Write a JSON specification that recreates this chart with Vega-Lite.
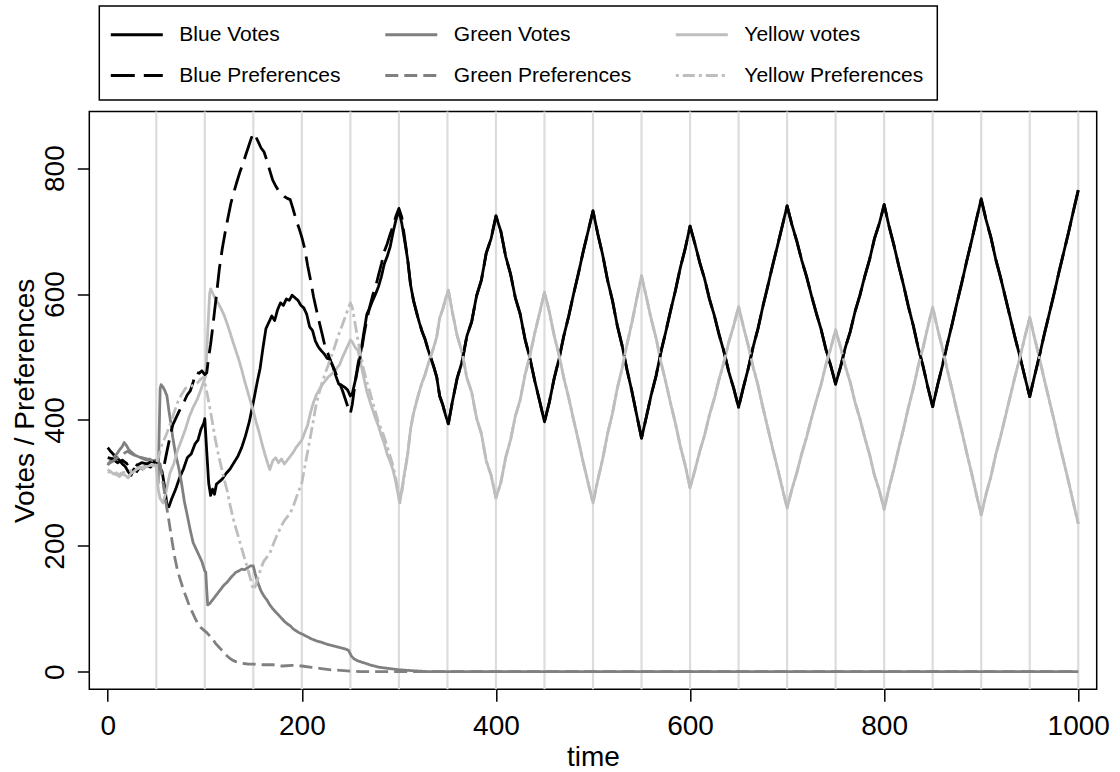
{
"$schema":"https://vega.github.io/schema/vega-lite/v6.json",
"width":1007.4,"height":577.8,
"autosize":{"type":"none"},
"padding":{"left":89.3,"top":111.5,"right":23.3,"bottom":82.7},
"background":"white",
"config":{
 "view":{"stroke":"black","strokeWidth":1.5},
 "font":"Liberation Sans",
 "line":{"strokeWidth":2.8,"strokeJoin":"round","strokeCap":"butt"},
 "legend":{"orient":"none","legendX":10,"legendY":-105.5,"columns":3,"symbolType":"M-2,0H2","symbolSize":676,"symbolOffset":9,"symbolStrokeWidth":2.5,"labelFont":"Liberation Sans","labelFontSize":21,"labelColor":"black","labelOffset":28,"labelLimit":400,"columnPadding":42.5,"rowPadding":16,"padding":14,"strokeColor":"black","strokeWidth":1.5,"fillColor":"white"}
},
"datasets":{
"gridlines":[{"t":50},{"t":100},{"t":150},{"t":200},{"t":250},{"t":300},{"t":350},{"t":400},{"t":450},{"t":500},{"t":550},{"t":600},{"t":650},{"t":700},{"t":750},{"t":800},{"t":850},{"t":900},{"t":950},{"t":1000}],
"bv":[{"t":0,"v":356},{"t":3,"v":350},{"t":6,"v":345},{"t":9,"v":340},{"t":12,"v":336},{"t":15,"v":330},{"t":18,"v":326},{"t":21,"v":318},{"t":24,"v":312},{"t":27,"v":322},{"t":30,"v":318},{"t":33,"v":325},{"t":36,"v":322},{"t":40,"v":328},{"t":44,"v":325},{"t":48,"v":330},{"t":52,"v":328},{"t":56,"v":318},{"t":59,"v":290},{"t":61,"v":265},{"t":63,"v":262},{"t":66,"v":275},{"t":70,"v":290},{"t":74,"v":308},{"t":78,"v":322},{"t":82,"v":340},{"t":86,"v":346},{"t":90,"v":362},{"t":93,"v":368},{"t":96,"v":385},{"t":99,"v":395},{"t":100,"v":402},{"t":102,"v":350},{"t":104,"v":300},{"t":106,"v":280},{"t":108,"v":290},{"t":110,"v":282},{"t":112,"v":298},{"t":115,"v":302},{"t":118,"v":306},{"t":122,"v":315},{"t":126,"v":322},{"t":130,"v":332},{"t":134,"v":342},{"t":138,"v":356},{"t":142,"v":375},{"t":146,"v":398},{"t":150,"v":428},{"t":154,"v":460},{"t":157,"v":482},{"t":160,"v":515},{"t":163,"v":545},{"t":166,"v":555},{"t":169,"v":565},{"t":172,"v":558},{"t":175,"v":575},{"t":178,"v":586},{"t":181,"v":582},{"t":184,"v":592},{"t":187,"v":590},{"t":190,"v":598},{"t":193,"v":594},{"t":196,"v":590},{"t":199,"v":582},{"t":202,"v":578},{"t":205,"v":568},{"t":208,"v":548},{"t":211,"v":542},{"t":214,"v":525},{"t":217,"v":516},{"t":220,"v":510},{"t":223,"v":505},{"t":226,"v":498},{"t":229,"v":496},{"t":232,"v":485},{"t":235,"v":470},{"t":238,"v":457},{"t":241,"v":455},{"t":244,"v":452},{"t":247,"v":448},{"t":250,"v":438},{"t":252,"v":442},{"t":255,"v":462},{"t":258,"v":490},{"t":261,"v":510},{"t":264,"v":540},{"t":267,"v":568},{"t":270,"v":578},{"t":273,"v":590},{"t":276,"v":600},{"t":279,"v":612},{"t":282,"v":628},{"t":285,"v":648},{"t":288,"v":660},{"t":291,"v":675},{"t":294,"v":698},{"t":297,"v":718},{"t":300,"v":733},{"t":303,"v":712},{"t":306,"v":684},{"t":309,"v":655},{"t":312,"v":615},{"t":315,"v":590},{"t":318,"v":572},{"t":321,"v":555},{"t":324,"v":540},{"t":327,"v":528},{"t":330,"v":512},{"t":333,"v":498},{"t":336,"v":484},{"t":339,"v":468},{"t":342,"v":438},{"t":345,"v":425},{"t":348,"v":408},{"t":351,"v":394},{"t":355,"v":428},{"t":360,"v":466},{"t":365,"v":492},{"t":370,"v":533},{"t":375,"v":556},{"t":380,"v":597},{"t":385,"v":622},{"t":390,"v":665},{"t":395,"v":688},{"t":400,"v":724},{"t":405,"v":700},{"t":410,"v":660},{"t":415,"v":632},{"t":420,"v":594},{"t":425,"v":568},{"t":430,"v":528},{"t":435,"v":498},{"t":440,"v":462},{"t":445,"v":430},{"t":450,"v":397},{"t":455,"v":428},{"t":460,"v":466},{"t":465,"v":497},{"t":470,"v":534},{"t":475,"v":565},{"t":480,"v":600},{"t":485,"v":633},{"t":490,"v":668},{"t":495,"v":700},{"t":500,"v":732},{"t":505,"v":695},{"t":510,"v":662},{"t":515,"v":622},{"t":520,"v":590},{"t":525,"v":550},{"t":530,"v":518},{"t":535,"v":480},{"t":540,"v":446},{"t":545,"v":408},{"t":550,"v":371},{"t":555,"v":405},{"t":560,"v":440},{"t":565,"v":470},{"t":570,"v":508},{"t":575,"v":540},{"t":580,"v":574},{"t":585,"v":606},{"t":590,"v":642},{"t":595,"v":672},{"t":600,"v":708},{"t":605,"v":680},{"t":610,"v":650},{"t":615,"v":624},{"t":620,"v":592},{"t":625,"v":566},{"t":630,"v":535},{"t":635,"v":508},{"t":640,"v":476},{"t":645,"v":450},{"t":650,"v":420},{"t":655,"v":452},{"t":660,"v":482},{"t":665,"v":516},{"t":670,"v":545},{"t":675,"v":580},{"t":680,"v":612},{"t":685,"v":645},{"t":690,"v":676},{"t":695,"v":708},{"t":700,"v":740},{"t":705,"v":710},{"t":710,"v":684},{"t":715,"v":654},{"t":720,"v":628},{"t":725,"v":598},{"t":730,"v":570},{"t":735,"v":544},{"t":740,"v":512},{"t":745,"v":486},{"t":750,"v":457},{"t":755,"v":484},{"t":760,"v":515},{"t":765,"v":540},{"t":770,"v":572},{"t":775,"v":598},{"t":780,"v":628},{"t":785,"v":655},{"t":790,"v":688},{"t":795,"v":712},{"t":800,"v":742},{"t":805,"v":708},{"t":810,"v":678},{"t":815,"v":645},{"t":820,"v":614},{"t":825,"v":580},{"t":830,"v":550},{"t":835,"v":515},{"t":840,"v":486},{"t":845,"v":452},{"t":850,"v":421},{"t":855,"v":455},{"t":860,"v":486},{"t":865,"v":520},{"t":870,"v":552},{"t":875,"v":586},{"t":880,"v":618},{"t":885,"v":652},{"t":890,"v":684},{"t":895,"v":718},{"t":900,"v":751},{"t":905,"v":718},{"t":910,"v":690},{"t":915,"v":655},{"t":920,"v":626},{"t":925,"v":594},{"t":930,"v":562},{"t":935,"v":530},{"t":940,"v":500},{"t":945,"v":468},{"t":950,"v":437},{"t":955,"v":470},{"t":960,"v":502},{"t":965,"v":536},{"t":970,"v":568},{"t":975,"v":600},{"t":980,"v":634},{"t":985,"v":666},{"t":990,"v":698},{"t":995,"v":732},{"t":1000,"v":765}],
"gv":[{"t":0,"v":328},{"t":3,"v":335},{"t":6,"v":340},{"t":9,"v":345},{"t":12,"v":352},{"t":15,"v":358},{"t":17,"v":364},{"t":19,"v":360},{"t":22,"v":352},{"t":25,"v":348},{"t":28,"v":344},{"t":31,"v":342},{"t":34,"v":340},{"t":37,"v":338},{"t":40,"v":336},{"t":43,"v":338},{"t":46,"v":334},{"t":49,"v":336},{"t":51,"v":320},{"t":52,"v":300},{"t":53,"v":380},{"t":54,"v":450},{"t":55,"v":456},{"t":57,"v":452},{"t":59,"v":446},{"t":61,"v":438},{"t":63,"v":415},{"t":65,"v":395},{"t":67,"v":372},{"t":70,"v":345},{"t":73,"v":325},{"t":76,"v":300},{"t":79,"v":270},{"t":82,"v":248},{"t":85,"v":225},{"t":88,"v":205},{"t":91,"v":195},{"t":94,"v":185},{"t":97,"v":175},{"t":100,"v":160},{"t":101,"v":158},{"t":102,"v":130},{"t":103,"v":106},{"t":105,"v":108},{"t":108,"v":114},{"t":111,"v":120},{"t":114,"v":126},{"t":117,"v":132},{"t":120,"v":138},{"t":123,"v":142},{"t":126,"v":148},{"t":129,"v":153},{"t":132,"v":158},{"t":135,"v":160},{"t":138,"v":163},{"t":141,"v":162},{"t":144,"v":165},{"t":147,"v":168},{"t":150,"v":168},{"t":152,"v":155},{"t":155,"v":140},{"t":158,"v":128},{"t":161,"v":120},{"t":164,"v":114},{"t":167,"v":106},{"t":170,"v":100},{"t":173,"v":95},{"t":176,"v":90},{"t":179,"v":85},{"t":182,"v":80},{"t":185,"v":76},{"t":188,"v":73},{"t":191,"v":68},{"t":194,"v":65},{"t":197,"v":62},{"t":200,"v":60},{"t":205,"v":56},{"t":210,"v":52},{"t":215,"v":49},{"t":220,"v":47},{"t":225,"v":44},{"t":230,"v":42},{"t":235,"v":40},{"t":240,"v":38},{"t":245,"v":36},{"t":248,"v":34},{"t":251,"v":25},{"t":254,"v":20},{"t":258,"v":17},{"t":262,"v":15},{"t":266,"v":13},{"t":270,"v":11},{"t":275,"v":9},{"t":280,"v":7},{"t":285,"v":6},{"t":290,"v":5},{"t":295,"v":4},{"t":300,"v":3},{"t":310,"v":2},{"t":320,"v":1},{"t":330,"v":0},{"t":1000,"v":0}],
"yv":[{"t":0,"v":321},{"t":3,"v":318},{"t":6,"v":314},{"t":9,"v":316},{"t":12,"v":310},{"t":15,"v":314},{"t":18,"v":312},{"t":21,"v":308},{"t":24,"v":315},{"t":27,"v":318},{"t":30,"v":322},{"t":33,"v":325},{"t":36,"v":322},{"t":40,"v":326},{"t":44,"v":328},{"t":48,"v":327},{"t":50,"v":330},{"t":52,"v":290},{"t":54,"v":275},{"t":57,"v":268},{"t":60,"v":285},{"t":64,"v":315},{"t":68,"v":330},{"t":72,"v":352},{"t":76,"v":368},{"t":80,"v":385},{"t":84,"v":405},{"t":88,"v":420},{"t":92,"v":432},{"t":96,"v":448},{"t":99,"v":462},{"t":101,"v":470},{"t":103,"v":540},{"t":105,"v":600},{"t":106,"v":608},{"t":108,"v":602},{"t":111,"v":592},{"t":114,"v":585},{"t":117,"v":576},{"t":120,"v":566},{"t":123,"v":553},{"t":126,"v":539},{"t":129,"v":524},{"t":132,"v":510},{"t":135,"v":496},{"t":138,"v":480},{"t":141,"v":462},{"t":144,"v":446},{"t":147,"v":430},{"t":150,"v":414},{"t":153,"v":396},{"t":156,"v":380},{"t":159,"v":362},{"t":162,"v":345},{"t":165,"v":330},{"t":167,"v":321},{"t":170,"v":335},{"t":173,"v":340},{"t":176,"v":332},{"t":179,"v":338},{"t":182,"v":330},{"t":185,"v":336},{"t":188,"v":342},{"t":191,"v":348},{"t":194,"v":356},{"t":197,"v":362},{"t":200,"v":368},{"t":203,"v":380},{"t":206,"v":392},{"t":209,"v":412},{"t":212,"v":428},{"t":215,"v":440},{"t":218,"v":448},{"t":221,"v":456},{"t":224,"v":462},{"t":227,"v":468},{"t":230,"v":472},{"t":233,"v":476},{"t":236,"v":482},{"t":239,"v":488},{"t":242,"v":500},{"t":245,"v":510},{"t":248,"v":520},{"t":250,"v":527},{"t":252,"v":524},{"t":255,"v":515},{"t":258,"v":510},{"t":261,"v":488},{"t":264,"v":466},{"t":267,"v":445},{"t":270,"v":430},{"t":273,"v":416},{"t":276,"v":402},{"t":279,"v":390},{"t":282,"v":375},{"t":285,"v":362},{"t":288,"v":345},{"t":291,"v":334},{"t":294,"v":320},{"t":297,"v":300},{"t":300,"v":275},{"t":301,"v":268},{"t":303,"v":290},{"t":306,"v":318},{"t":309,"v":345},{"t":312,"v":385},{"t":315,"v":410},{"t":318,"v":428},{"t":321,"v":445},{"t":324,"v":460},{"t":327,"v":472},{"t":330,"v":488},{"t":333,"v":502},{"t":336,"v":516},{"t":339,"v":532},{"t":342,"v":562},{"t":345,"v":575},{"t":348,"v":592},{"t":351,"v":606},{"t":355,"v":572},{"t":360,"v":534},{"t":365,"v":508},{"t":370,"v":467},{"t":375,"v":444},{"t":380,"v":403},{"t":385,"v":378},{"t":390,"v":335},{"t":395,"v":312},{"t":400,"v":276},{"t":405,"v":300},{"t":410,"v":340},{"t":415,"v":368},{"t":420,"v":406},{"t":425,"v":432},{"t":430,"v":472},{"t":435,"v":502},{"t":440,"v":538},{"t":445,"v":570},{"t":450,"v":603},{"t":455,"v":572},{"t":460,"v":534},{"t":465,"v":503},{"t":470,"v":466},{"t":475,"v":435},{"t":480,"v":400},{"t":485,"v":367},{"t":490,"v":332},{"t":495,"v":300},{"t":500,"v":268},{"t":505,"v":305},{"t":510,"v":338},{"t":515,"v":378},{"t":520,"v":410},{"t":525,"v":450},{"t":530,"v":482},{"t":535,"v":520},{"t":540,"v":554},{"t":545,"v":592},{"t":550,"v":629},{"t":555,"v":595},{"t":560,"v":560},{"t":565,"v":530},{"t":570,"v":492},{"t":575,"v":460},{"t":580,"v":426},{"t":585,"v":394},{"t":590,"v":358},{"t":595,"v":328},{"t":600,"v":292},{"t":605,"v":320},{"t":610,"v":350},{"t":615,"v":376},{"t":620,"v":408},{"t":625,"v":434},{"t":630,"v":465},{"t":635,"v":492},{"t":640,"v":524},{"t":645,"v":550},{"t":650,"v":580},{"t":655,"v":548},{"t":660,"v":518},{"t":665,"v":484},{"t":670,"v":455},{"t":675,"v":420},{"t":680,"v":388},{"t":685,"v":355},{"t":690,"v":324},{"t":695,"v":292},{"t":700,"v":260},{"t":705,"v":290},{"t":710,"v":316},{"t":715,"v":346},{"t":720,"v":372},{"t":725,"v":402},{"t":730,"v":430},{"t":735,"v":456},{"t":740,"v":488},{"t":745,"v":514},{"t":750,"v":543},{"t":755,"v":516},{"t":760,"v":485},{"t":765,"v":460},{"t":770,"v":428},{"t":775,"v":402},{"t":780,"v":372},{"t":785,"v":345},{"t":790,"v":312},{"t":795,"v":288},{"t":800,"v":258},{"t":805,"v":292},{"t":810,"v":322},{"t":815,"v":355},{"t":820,"v":386},{"t":825,"v":420},{"t":830,"v":450},{"t":835,"v":485},{"t":840,"v":514},{"t":845,"v":548},{"t":850,"v":579},{"t":855,"v":545},{"t":860,"v":514},{"t":865,"v":480},{"t":870,"v":448},{"t":875,"v":414},{"t":880,"v":382},{"t":885,"v":348},{"t":890,"v":316},{"t":895,"v":282},{"t":900,"v":249},{"t":905,"v":282},{"t":910,"v":310},{"t":915,"v":345},{"t":920,"v":374},{"t":925,"v":406},{"t":930,"v":438},{"t":935,"v":470},{"t":940,"v":500},{"t":945,"v":532},{"t":950,"v":563},{"t":955,"v":530},{"t":960,"v":498},{"t":965,"v":464},{"t":970,"v":432},{"t":975,"v":400},{"t":980,"v":366},{"t":985,"v":334},{"t":990,"v":302},{"t":995,"v":268},{"t":1000,"v":235}],
"bp":[{"t":0,"v":340},{"t":5,"v":338},{"t":10,"v":332},{"t":15,"v":336},{"t":20,"v":330},{"t":25,"v":334},{"t":30,"v":328},{"t":35,"v":332},{"t":40,"v":330},{"t":45,"v":334},{"t":50,"v":333},{"t":55,"v":328},{"t":58,"v":327},{"t":61,"v":350},{"t":64,"v":372},{"t":67,"v":392},{"t":70,"v":402},{"t":73,"v":412},{"t":76,"v":421},{"t":79,"v":430},{"t":82,"v":440},{"t":85,"v":446},{"t":88,"v":460},{"t":91,"v":476},{"t":94,"v":474},{"t":97,"v":478},{"t":100,"v":472},{"t":102,"v":475},{"t":104,"v":500},{"t":106,"v":520},{"t":108,"v":545},{"t":110,"v":572},{"t":112,"v":598},{"t":115,"v":640},{"t":118,"v":672},{"t":121,"v":698},{"t":124,"v":722},{"t":127,"v":745},{"t":130,"v":762},{"t":133,"v":778},{"t":136,"v":793},{"t":139,"v":806},{"t":142,"v":820},{"t":145,"v":834},{"t":148,"v":848},{"t":150,"v":856},{"t":152,"v":852},{"t":155,"v":842},{"t":158,"v":832},{"t":161,"v":826},{"t":164,"v":812},{"t":167,"v":796},{"t":170,"v":781},{"t":173,"v":772},{"t":176,"v":764},{"t":179,"v":760},{"t":182,"v":755},{"t":185,"v":752},{"t":188,"v":750},{"t":191,"v":735},{"t":194,"v":718},{"t":197,"v":705},{"t":200,"v":690},{"t":203,"v":672},{"t":206,"v":645},{"t":209,"v":622},{"t":212,"v":596},{"t":215,"v":575},{"t":218,"v":555},{"t":221,"v":536},{"t":224,"v":516},{"t":227,"v":505},{"t":230,"v":492},{"t":233,"v":482},{"t":236,"v":470},{"t":239,"v":458},{"t":242,"v":446},{"t":245,"v":432},{"t":248,"v":418},{"t":250,"v":410},{"t":252,"v":425},{"t":255,"v":460},{"t":258,"v":485},{"t":261,"v":505},{"t":264,"v":535},{"t":267,"v":560},{"t":270,"v":580},{"t":273,"v":598},{"t":276,"v":612},{"t":279,"v":630},{"t":282,"v":648},{"t":285,"v":668},{"t":288,"v":680},{"t":291,"v":695},{"t":294,"v":708},{"t":297,"v":724},{"t":300,"v":736},{"t":303,"v":722},{"t":306,"v":688},{"t":309,"v":656},{"t":312,"v":615},{"t":315,"v":590},{"t":318,"v":572},{"t":321,"v":555},{"t":324,"v":540},{"t":327,"v":528},{"t":330,"v":512},{"t":333,"v":498},{"t":336,"v":484},{"t":339,"v":468},{"t":342,"v":438},{"t":345,"v":425},{"t":348,"v":408},{"t":351,"v":394},{"t":355,"v":428},{"t":360,"v":466},{"t":365,"v":492},{"t":370,"v":533},{"t":375,"v":556},{"t":380,"v":597},{"t":385,"v":622},{"t":390,"v":665},{"t":395,"v":688},{"t":400,"v":724},{"t":405,"v":700},{"t":410,"v":660},{"t":415,"v":632},{"t":420,"v":594},{"t":425,"v":568},{"t":430,"v":528},{"t":435,"v":498},{"t":440,"v":462},{"t":445,"v":430},{"t":450,"v":397},{"t":455,"v":428},{"t":460,"v":466},{"t":465,"v":497},{"t":470,"v":534},{"t":475,"v":565},{"t":480,"v":600},{"t":485,"v":633},{"t":490,"v":668},{"t":495,"v":700},{"t":500,"v":732},{"t":505,"v":695},{"t":510,"v":662},{"t":515,"v":622},{"t":520,"v":590},{"t":525,"v":550},{"t":530,"v":518},{"t":535,"v":480},{"t":540,"v":446},{"t":545,"v":408},{"t":550,"v":371},{"t":555,"v":405},{"t":560,"v":440},{"t":565,"v":470},{"t":570,"v":508},{"t":575,"v":540},{"t":580,"v":574},{"t":585,"v":606},{"t":590,"v":642},{"t":595,"v":672},{"t":600,"v":708},{"t":605,"v":680},{"t":610,"v":650},{"t":615,"v":624},{"t":620,"v":592},{"t":625,"v":566},{"t":630,"v":535},{"t":635,"v":508},{"t":640,"v":476},{"t":645,"v":450},{"t":650,"v":420},{"t":655,"v":452},{"t":660,"v":482},{"t":665,"v":516},{"t":670,"v":545},{"t":675,"v":580},{"t":680,"v":612},{"t":685,"v":645},{"t":690,"v":676},{"t":695,"v":708},{"t":700,"v":740},{"t":705,"v":710},{"t":710,"v":684},{"t":715,"v":654},{"t":720,"v":628},{"t":725,"v":598},{"t":730,"v":570},{"t":735,"v":544},{"t":740,"v":512},{"t":745,"v":486},{"t":750,"v":457},{"t":755,"v":484},{"t":760,"v":515},{"t":765,"v":540},{"t":770,"v":572},{"t":775,"v":598},{"t":780,"v":628},{"t":785,"v":655},{"t":790,"v":688},{"t":795,"v":712},{"t":800,"v":742},{"t":805,"v":708},{"t":810,"v":678},{"t":815,"v":645},{"t":820,"v":614},{"t":825,"v":580},{"t":830,"v":550},{"t":835,"v":515},{"t":840,"v":486},{"t":845,"v":452},{"t":850,"v":421},{"t":855,"v":455},{"t":860,"v":486},{"t":865,"v":520},{"t":870,"v":552},{"t":875,"v":586},{"t":880,"v":618},{"t":885,"v":652},{"t":890,"v":684},{"t":895,"v":718},{"t":900,"v":751},{"t":905,"v":718},{"t":910,"v":690},{"t":915,"v":655},{"t":920,"v":626},{"t":925,"v":594},{"t":930,"v":562},{"t":935,"v":530},{"t":940,"v":500},{"t":945,"v":468},{"t":950,"v":437},{"t":955,"v":470},{"t":960,"v":502},{"t":965,"v":536},{"t":970,"v":568},{"t":975,"v":600},{"t":980,"v":634},{"t":985,"v":666},{"t":990,"v":698},{"t":995,"v":732},{"t":1000,"v":765}],
"gp":[{"t":0,"v":330},{"t":5,"v":334},{"t":10,"v":340},{"t":15,"v":345},{"t":20,"v":350},{"t":25,"v":346},{"t":30,"v":342},{"t":35,"v":340},{"t":40,"v":338},{"t":45,"v":336},{"t":50,"v":334},{"t":54,"v":330},{"t":57,"v":300},{"t":60,"v":268},{"t":63,"v":240},{"t":66,"v":210},{"t":69,"v":182},{"t":72,"v":160},{"t":75,"v":145},{"t":78,"v":130},{"t":81,"v":118},{"t":84,"v":105},{"t":87,"v":95},{"t":90,"v":85},{"t":93,"v":76},{"t":96,"v":70},{"t":99,"v":66},{"t":102,"v":62},{"t":105,"v":57},{"t":108,"v":52},{"t":111,"v":45},{"t":114,"v":40},{"t":117,"v":35},{"t":120,"v":30},{"t":123,"v":25},{"t":126,"v":21},{"t":129,"v":18},{"t":132,"v":16},{"t":135,"v":15},{"t":140,"v":13},{"t":145,"v":12},{"t":150,"v":12},{"t":160,"v":11},{"t":170,"v":11},{"t":180,"v":9},{"t":190,"v":10},{"t":200,"v":9},{"t":210,"v":7},{"t":220,"v":5},{"t":230,"v":3},{"t":240,"v":2},{"t":250,"v":1},{"t":260,"v":0},{"t":1000,"v":0}],
"yp":[{"t":0,"v":318},{"t":5,"v":315},{"t":10,"v":312},{"t":15,"v":316},{"t":20,"v":318},{"t":25,"v":320},{"t":30,"v":322},{"t":35,"v":325},{"t":40,"v":326},{"t":45,"v":328},{"t":50,"v":330},{"t":53,"v":345},{"t":56,"v":362},{"t":60,"v":375},{"t":64,"v":392},{"t":68,"v":410},{"t":72,"v":428},{"t":76,"v":440},{"t":80,"v":450},{"t":84,"v":452},{"t":88,"v":455},{"t":92,"v":458},{"t":96,"v":465},{"t":99,"v":468},{"t":102,"v":445},{"t":105,"v":421},{"t":108,"v":395},{"t":111,"v":368},{"t":114,"v":345},{"t":117,"v":325},{"t":120,"v":305},{"t":123,"v":288},{"t":126,"v":265},{"t":129,"v":245},{"t":132,"v":228},{"t":135,"v":212},{"t":138,"v":196},{"t":141,"v":180},{"t":144,"v":165},{"t":147,"v":148},{"t":150,"v":130},{"t":152,"v":135},{"t":155,"v":150},{"t":158,"v":165},{"t":161,"v":176},{"t":164,"v":182},{"t":167,"v":188},{"t":170,"v":200},{"t":173,"v":212},{"t":176,"v":222},{"t":179,"v":232},{"t":182,"v":240},{"t":185,"v":246},{"t":188,"v":252},{"t":191,"v":262},{"t":194,"v":275},{"t":197,"v":288},{"t":200,"v":300},{"t":203,"v":325},{"t":206,"v":350},{"t":209,"v":375},{"t":212,"v":400},{"t":215,"v":427},{"t":218,"v":444},{"t":221,"v":460},{"t":224,"v":474},{"t":227,"v":486},{"t":230,"v":500},{"t":233,"v":512},{"t":236,"v":527},{"t":239,"v":540},{"t":242,"v":552},{"t":245,"v":565},{"t":248,"v":578},{"t":250,"v":586},{"t":252,"v":578},{"t":255,"v":552},{"t":258,"v":525},{"t":261,"v":500},{"t":264,"v":478},{"t":267,"v":460},{"t":270,"v":445},{"t":273,"v":428},{"t":276,"v":412},{"t":279,"v":395},{"t":282,"v":385},{"t":285,"v":372},{"t":288,"v":358},{"t":291,"v":342},{"t":294,"v":327},{"t":297,"v":305},{"t":300,"v":280},{"t":303,"v":285},{"t":306,"v":316},{"t":309,"v":345},{"t":312,"v":385},{"t":315,"v":410},{"t":318,"v":428},{"t":321,"v":445},{"t":324,"v":460},{"t":327,"v":472},{"t":330,"v":488},{"t":333,"v":502},{"t":336,"v":516},{"t":339,"v":532},{"t":342,"v":562},{"t":345,"v":575},{"t":348,"v":592},{"t":351,"v":606},{"t":355,"v":572},{"t":360,"v":534},{"t":365,"v":508},{"t":370,"v":467},{"t":375,"v":444},{"t":380,"v":403},{"t":385,"v":378},{"t":390,"v":335},{"t":395,"v":312},{"t":400,"v":276},{"t":405,"v":300},{"t":410,"v":340},{"t":415,"v":368},{"t":420,"v":406},{"t":425,"v":432},{"t":430,"v":472},{"t":435,"v":502},{"t":440,"v":538},{"t":445,"v":570},{"t":450,"v":603},{"t":455,"v":572},{"t":460,"v":534},{"t":465,"v":503},{"t":470,"v":466},{"t":475,"v":435},{"t":480,"v":400},{"t":485,"v":367},{"t":490,"v":332},{"t":495,"v":300},{"t":500,"v":268},{"t":505,"v":305},{"t":510,"v":338},{"t":515,"v":378},{"t":520,"v":410},{"t":525,"v":450},{"t":530,"v":482},{"t":535,"v":520},{"t":540,"v":554},{"t":545,"v":592},{"t":550,"v":629},{"t":555,"v":595},{"t":560,"v":560},{"t":565,"v":530},{"t":570,"v":492},{"t":575,"v":460},{"t":580,"v":426},{"t":585,"v":394},{"t":590,"v":358},{"t":595,"v":328},{"t":600,"v":292},{"t":605,"v":320},{"t":610,"v":350},{"t":615,"v":376},{"t":620,"v":408},{"t":625,"v":434},{"t":630,"v":465},{"t":635,"v":492},{"t":640,"v":524},{"t":645,"v":550},{"t":650,"v":580},{"t":655,"v":548},{"t":660,"v":518},{"t":665,"v":484},{"t":670,"v":455},{"t":675,"v":420},{"t":680,"v":388},{"t":685,"v":355},{"t":690,"v":324},{"t":695,"v":292},{"t":700,"v":260},{"t":705,"v":290},{"t":710,"v":316},{"t":715,"v":346},{"t":720,"v":372},{"t":725,"v":402},{"t":730,"v":430},{"t":735,"v":456},{"t":740,"v":488},{"t":745,"v":514},{"t":750,"v":543},{"t":755,"v":516},{"t":760,"v":485},{"t":765,"v":460},{"t":770,"v":428},{"t":775,"v":402},{"t":780,"v":372},{"t":785,"v":345},{"t":790,"v":312},{"t":795,"v":288},{"t":800,"v":258},{"t":805,"v":292},{"t":810,"v":322},{"t":815,"v":355},{"t":820,"v":386},{"t":825,"v":420},{"t":830,"v":450},{"t":835,"v":485},{"t":840,"v":514},{"t":845,"v":548},{"t":850,"v":579},{"t":855,"v":545},{"t":860,"v":514},{"t":865,"v":480},{"t":870,"v":448},{"t":875,"v":414},{"t":880,"v":382},{"t":885,"v":348},{"t":890,"v":316},{"t":895,"v":282},{"t":900,"v":249},{"t":905,"v":282},{"t":910,"v":310},{"t":915,"v":345},{"t":920,"v":374},{"t":925,"v":406},{"t":930,"v":438},{"t":935,"v":470},{"t":940,"v":500},{"t":945,"v":532},{"t":950,"v":563},{"t":955,"v":530},{"t":960,"v":498},{"t":965,"v":464},{"t":970,"v":432},{"t":975,"v":400},{"t":980,"v":366},{"t":985,"v":334},{"t":990,"v":302},{"t":995,"v":268},{"t":1000,"v":235}]
},
"layer":[
 {"data":{"name":"gridlines"},"mark":{"type":"rule","color":"#dcdcdc","strokeWidth":2.2},
  "encoding":{"x":{"field":"t","type":"quantitative","scale":{"domain":[-19,1019],"nice":false,"zero":false},
   "axis":{"values":[0,200,400,600,800,1000],"format":"d","title":"time","grid":false,"domain":false,"tickSize":12,"tickWidth":1.5,"tickColor":"black","labelFontSize":28,"labelColor":"black","labelFont":"Liberation Sans","labelBaseline":"alphabetic","labelPadding":32.7,"labelFlush":false,"labelOverlap":false,"titleFontSize":28,"titleFontWeight":"normal","titleColor":"black","titleFont":"Liberation Sans","titleBaseline":"alphabetic","titleY":76,"titleX":503.7}}}},
 {"encoding":{
  "x":{"field":"t","type":"quantitative","scale":{"domain":[-19,1019],"nice":false,"zero":false},
   "axis":{"values":[0,200,400,600,800,1000],"format":"d","title":"time","grid":false,"domain":false,"tickSize":12,"tickWidth":1.5,"tickColor":"black","labelFontSize":28,"labelColor":"black","labelFont":"Liberation Sans","labelBaseline":"alphabetic","labelPadding":32.7,"labelFlush":false,"labelOverlap":false,"titleFontSize":28,"titleFontWeight":"normal","titleColor":"black","titleFont":"Liberation Sans","titleBaseline":"alphabetic","titleY":76,"titleX":503.7}},
  "y":{"field":"v","type":"quantitative","scale":{"domain":[-28,890],"nice":false,"zero":false},
   "axis":{"values":[0,200,400,600,800],"format":"d","title":"Votes / Preferences","grid":false,"domain":false,"tickSize":12,"tickWidth":1.5,"tickColor":"black","labelAngle":-90,"labelAlign":"center","labelBaseline":"alphabetic","labelPadding":14,"labelFontSize":28,"labelColor":"black","labelFont":"Liberation Sans","labelFlush":false,"labelOverlap":false,"titleFontSize":28,"titleFontWeight":"normal","titleColor":"black","titleFont":"Liberation Sans","titleAngle":-90,"titleAlign":"center","titleBaseline":"alphabetic","titleX":-56,"titleY":288.9}}
  },
  "layer":[
  {"data":{"name":"bv"},"mark":{"type":"line"},"encoding":{
   "color":{"datum":"Blue Votes","type":"nominal","scale":{"domain":["Blue Votes","Blue Preferences","Green Votes","Green Preferences","Yellow votes","Yellow Preferences"],"range":["#000000","#000000","#808080","#808080","#bebebe","#bebebe"]},"legend":{"title":null}},
   "strokeDash":{"datum":"Blue Votes","type":"nominal","scale":{"domain":["Blue Votes","Blue Preferences","Green Votes","Green Preferences","Yellow votes","Yellow Preferences"],"range":[[1,0],[24,9],[1,0],[13,6],[1,0],[3,4,12,4]]},"legend":{"title":null}}}},
  {"data":{"name":"gv"},"mark":{"type":"line"},"encoding":{"color":{"datum":"Green Votes","type":"nominal"},"strokeDash":{"datum":"Green Votes","type":"nominal"}}},
  {"data":{"name":"yv"},"mark":{"type":"line"},"encoding":{"color":{"datum":"Yellow votes","type":"nominal"},"strokeDash":{"datum":"Yellow votes","type":"nominal"}}},
  {"data":{"name":"bp"},"mark":{"type":"line"},"encoding":{"color":{"datum":"Blue Preferences","type":"nominal"},"strokeDash":{"datum":"Blue Preferences","type":"nominal"}}},
  {"data":{"name":"gp"},"mark":{"type":"line"},"encoding":{"color":{"datum":"Green Preferences","type":"nominal"},"strokeDash":{"datum":"Green Preferences","type":"nominal"}}},
  {"data":{"name":"yp"},"mark":{"type":"line"},"encoding":{"color":{"datum":"Yellow Preferences","type":"nominal"},"strokeDash":{"datum":"Yellow Preferences","type":"nominal"}}}
  ]
 }
]
}
